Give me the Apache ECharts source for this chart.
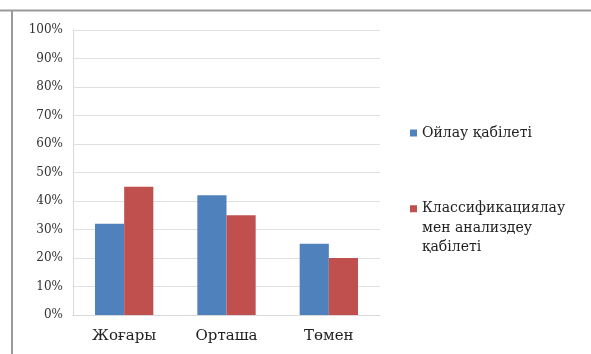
<!DOCTYPE html>
<html>
<head>
<meta charset="utf-8">
<script src="https://cdn.jsdelivr.net/npm/echarts@6/dist/echarts.min.js"></script>
<style>
  html, body { margin: 0; padding: 0; background: #fff; }
  #chart { width: 591px; height: 354px; }
</style>
</head>
<body>
<div id="chart"></div>
<script>
// Ability levels and the share of pupils at each level
const categories = ['Жоғары', 'Орташа', 'Төмен'];
const seriesNames = ['Ойлау қабілеті', 'Классификациялау мен анализдеу қабілеті'];
const thinking = [32, 42, 25];
const classifying = [45, 35, 20];
const yTicks = [0, 10, 20, 30, 40, 50, 60, 70, 80, 90, 100];

const FONT = '"DejaVu Serif", "Liberation Serif", serif';
const chart = echarts.init(document.getElementById('chart'), null, { renderer: 'canvas' });

chart.setOption({
  animation: false,
  backgroundColor: '#fff',
  grid: { left: 73, right: 211, top: 30, bottom: 39 },
  legend: [
    {
      data: [seriesNames[0]],
      orient: 'vertical',
      left: 405, top: 121,
      itemWidth: 7, itemHeight: 7, itemGap: 8,
      icon: 'rect',
      textStyle: { fontFamily: FONT, fontSize: 14, color: '#222' }
    },
    {
      // two leading blank lines keep the swatch level with the first text line
      data: [seriesNames[1]],
      orient: 'vertical',
      left: 405, top: 155,
      itemWidth: 7, itemHeight: 7, itemGap: 8,
      icon: 'rect',
      formatter: () => ' \n \nКлассификациялау\nмен анализдеу\nқабілеті',
      textStyle: { fontFamily: FONT, fontSize: 14, color: '#222', lineHeight: 19.5 }
    }
  ],
  xAxis: {
    type: 'category',
    data: categories,
    axisLine: { show: true, lineStyle: { color: '#d9d9d9' } },
    axisTick: { show: false },
    axisLabel: { fontFamily: FONT, fontSize: 15, color: '#222', margin: 14 }
  },
  yAxis: {
    type: 'value',
    min: 0, max: 100, interval: 10,
    axisLine: { show: true, lineStyle: { color: '#d9d9d9' } },
    axisTick: { show: false },
    splitLine: { lineStyle: { color: '#e0e0e0' } },
    axisLabel: {
      fontFamily: FONT, fontSize: 12, color: '#333', margin: 10,
      formatter: v => (yTicks.includes(v) ? v + '%' : '')
    }
  },
  series: [
    {
      name: seriesNames[0], type: 'bar', data: thinking,
      itemStyle: { color: '#4f81bd' },
      barGap: '0%', barCategoryGap: '43%'
    },
    {
      name: seriesNames[1], type: 'bar', data: classifying,
      itemStyle: { color: '#c0504d' },
      barGap: '0%', barCategoryGap: '43%'
    }
  ],
  graphic: [
    { type: 'line', shape: { x1: 0, y1: 10.5, x2: 591, y2: 10.5 }, style: { stroke: '#9a9a9a', lineWidth: 2 } },
    { type: 'line', shape: { x1: 12, y1: 10, x2: 12, y2: 354 }, style: { stroke: '#9a9a9a', lineWidth: 2 } }
  ]
});
</script>
</body>
</html>
